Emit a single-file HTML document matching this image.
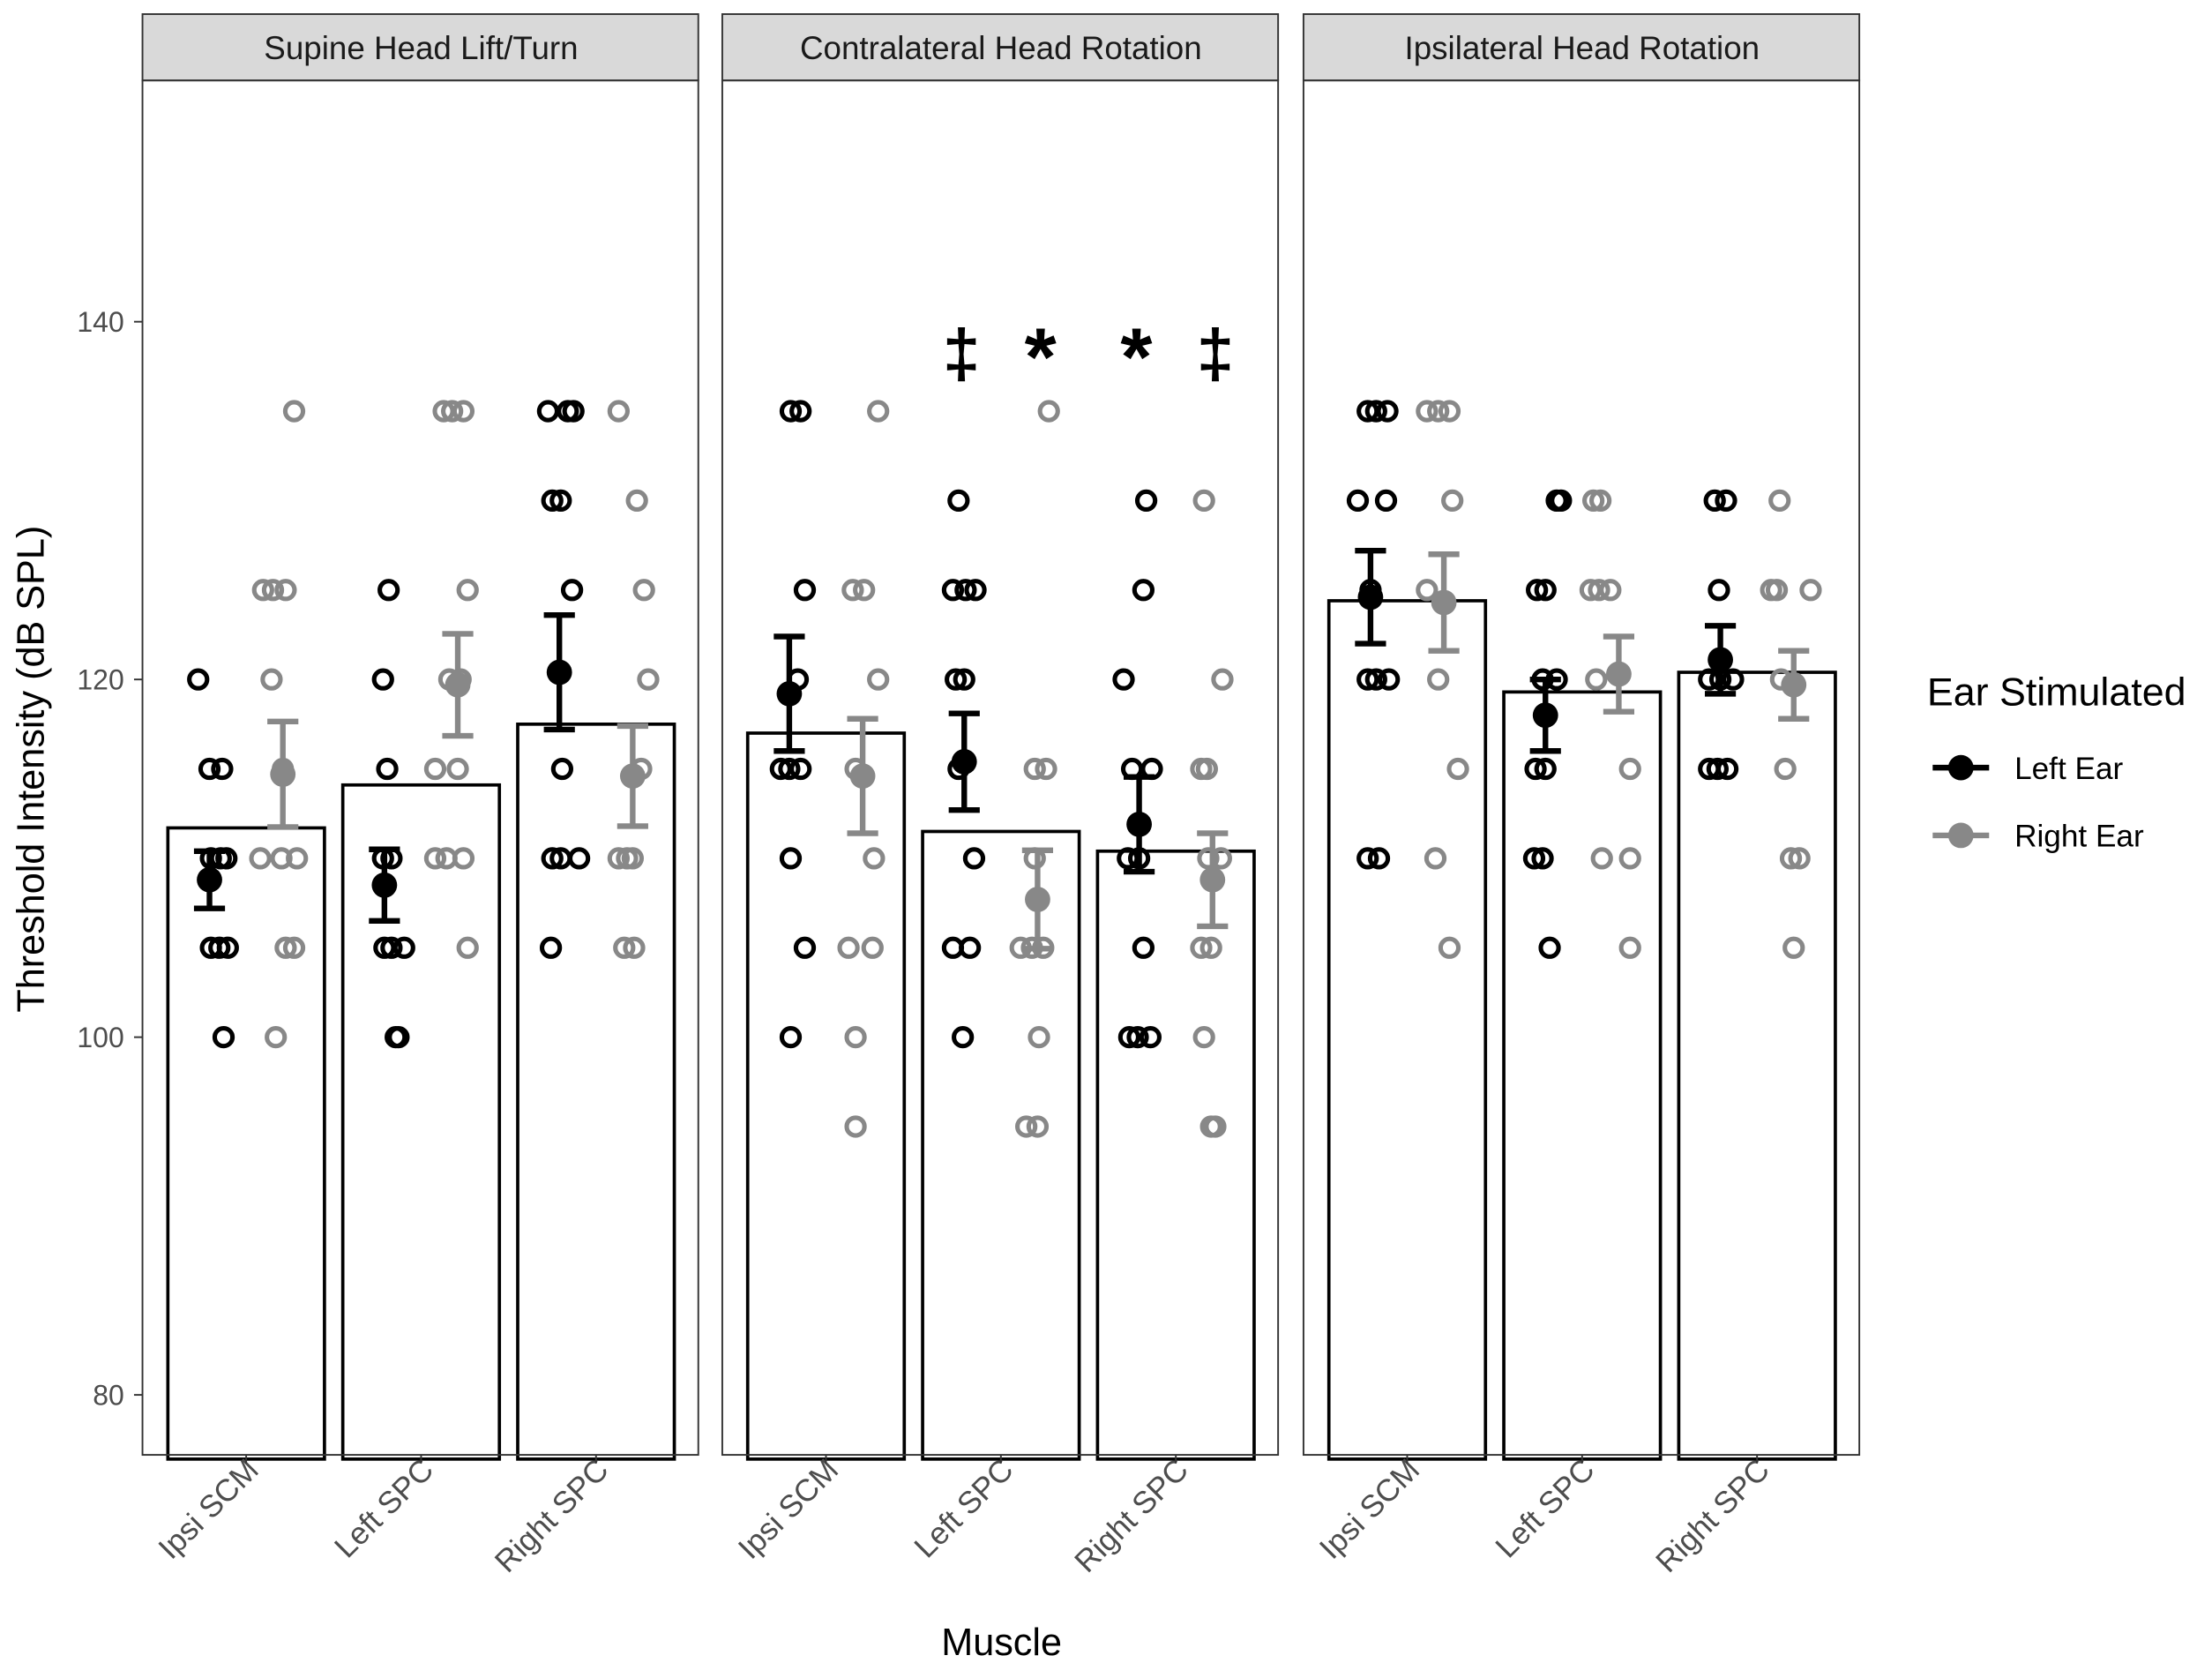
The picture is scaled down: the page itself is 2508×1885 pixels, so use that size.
<!DOCTYPE html>
<html><head><meta charset="utf-8"><style>html,body{margin:0;padding:0;background:#fff}svg{display:block}text{font-family:"Liberation Sans",sans-serif}</style></head>
<body>
<svg id="chart" xmlns="http://www.w3.org/2000/svg" width="2508" height="1885" viewBox="0 0 1568 1178.5">
<rect width="1568" height="1180" fill="#fff"/>
<g id="root"></g>
</svg>
<script>
const panels = ["Supine Head Lift/Turn","Contralateral Head Rotation","Ipsilateral Head Rotation"];
const categories = ["Ipsi SCM","Left SPC","Right SPC"];
const barMeans = [[111.7,114.1,117.5],[117.0,111.5,110.4],[124.4,119.3,120.4]];
const leftMean = [[108.8,108.5,120.4],[119.2,115.4,111.9],[124.6,118.0,121.1]];
const leftSE = [[1.6,2.0,3.2],[3.2,2.7,2.65],[2.6,2.0,1.9]];
const rightMean = [[114.7,119.7,114.6],[114.6,107.7,108.8],[124.3,120.3,119.7]];
const rightSE = [[2.95,2.85,2.8],[3.2,2.75,2.6],[2.7,2.1,1.9]];
const leftPts = [
 [[[120,-34],[115,-26],[115,-17],[110,-25],[110,-18],[110,-14],[105,-25],[105,-19],[105,-13],[100,-16]],
  [[125,-23],[120,-27],[115,-24],[110,-27],[110,-21],[105,-26],[105,-21],[105,-12],[100,-18],[100,-16]],
  [[135,-34],[135,-20],[135,-16],[130,-31],[130,-25],[125,-17],[115,-24],[110,-31],[110,-25],[110,-12],[105,-32]]],
 [[[135,-25],[135,-18],[125,-15],[120,-20],[115,-32],[115,-26],[115,-18],[110,-25],[105,-15],[100,-25]],
  [[130,-30],[125,-34],[125,-25],[125,-18],[120,-32],[120,-26],[115,-30],[110,-19],[105,-34],[105,-22],[100,-27]],
  [[130,-21],[125,-23],[120,-37],[115,-31],[115,-17],[110,-34],[110,-26],[105,-23],[100,-33],[100,-27],[100,-18]]],
 [[[135,-28],[135,-22],[135,-14],[130,-35],[130,-15],[125,-26],[120,-28],[120,-22],[120,-13],[110,-28],[110,-20]],
  [[130,-18],[130,-15],[125,-32],[125,-26],[120,-28],[120,-18],[115,-33],[115,-26],[110,-34],[110,-28],[105,-23]],
  [[130,-30],[130,-22],[125,-27],[120,-34],[120,-26],[120,-17],[115,-34],[115,-28],[115,-21]]]
];
const rightPts = [
 [[[135,34],[125,12],[125,19],[125,28],[120,18],[115,26],[110,10],[110,25],[110,36],[105,28],[105,34],[100,21]],
  [[135,16],[135,22],[135,30],[125,33],[120,20],[120,28],[115,10],[115,26],[110,10],[110,18],[110,30],[105,33]],
  [[135,16],[130,29],[125,34],[120,37],[115,32],[110,16],[110,22],[110,26],[105,20],[105,27]]],
 [[[135,37],[125,19],[125,27],[120,37],[115,21],[110,34],[105,16],[105,33],[100,21],[95,21]],
  [[135,34],[115,24],[115,32],[110,24],[105,14],[105,22],[105,30],[100,27],[95,18],[95,26]],
  [[130,20],[120,33],[115,18],[115,22],[110,23],[110,32],[105,18],[105,25],[100,20],[95,25],[95,28]]],
 [[[135,14],[135,22],[135,30],[130,32],[125,14],[120,22],[115,36],[110,20],[105,30]],
  [[130,8],[130,13],[125,6],[125,12],[125,20],[120,10],[115,34],[110,14],[110,34],[105,34]],
  [[130,16],[125,10],[125,14],[125,38],[120,17],[115,20],[110,24],[110,30],[105,26]]]
];
const yTicks = [80,100,120,140];
const annotations = [[1,1,-1,"‡"],[1,1,1,"*"],[1,2,-1,"*"],[1,2,1,"‡"]];
const annotY = 138.5;

const NS="http://www.w3.org/2000/svg";
const root=document.getElementById('root');
function mk(tag,attrs,parent){const e=document.createElementNS(NS,tag);for(const k in attrs)e.setAttribute(k,attrs[k]);(parent||root).appendChild(e);return e;}
const panelX=[101,512,924], panelW=395, plotTop=57, plotBottom=1031;
const y=v=>735-(v-100)*12.675;
const cx=(p,c)=>panelX[p]+73.5+c*124;
const barW=111;

yTicks.forEach(t=>{
  const tl=mk('line',{x1:95,x2:101,y1:y(t),y2:y(t),stroke:'#333','stroke-width':1.2});
  
  
  const tx=mk('text',{x:88,y:y(t)+7,'text-anchor':'end','font-size':20,fill:'#4d4d4d'});
  tx.textContent=t;
  
  
});

panels.forEach((name,p)=>{
  const g=mk('g',{});
  
  
  const strip=mk('rect',{x:panelX[p],y:10,width:panelW-1,height:47,fill:'#d9d9d9',stroke:'#333','stroke-width':1.2},g);
  
  
  const st=mk('text',{x:panelX[p]+panelW/2,y:42,'text-anchor':'middle','font-size':23,fill:'#1a1a1a'},g);
  st.textContent=name;
  
  
  categories.forEach((cat,c)=>{
    const x=cx(p,c);
    const b=mk('rect',{x:x-barW/2,y:y(barMeans[p][c]),width:barW,height:plotBottom-y(barMeans[p][c])+3,fill:'#fff',stroke:'#000','stroke-width':2.3},g);
    
    
    [[leftPts,'#000'],[rightPts,'#888']].forEach(([pts,col])=>{
      pts[p][c].forEach(([v,j])=>{
        const pt=mk('circle',{cx:x+j,cy:y(v),r:6.3,fill:'none',stroke:col,'stroke-width':3.2},g);
        
        
      });
    });
    [[leftMean,leftSE,'#000',-26],[rightMean,rightSE,'#888',26]].forEach(([m,se,col,off],s)=>{
      const mx=x+off, mv=m[p][c], e=se[p][c];
      const eb=mk('path',{d:`M${mx-11},${y(mv+e)}H${mx+11}M${mx},${y(mv+e)}V${y(mv-e)}M${mx-11},${y(mv-e)}H${mx+11}`,stroke:col,'stroke-width':4,fill:'none'},g);
      
      
      const mp=mk('circle',{cx:mx,cy:y(mv),r:9,fill:col},g);
      
      
    });
    const xl=mk('text',{x:0,y:0,'text-anchor':'end','font-size':22,fill:'#4d4d4d',transform:`translate(${x+10},${1043}) rotate(-45)`});
    xl.textContent=cat;
    
    
    const xt=mk('line',{x1:x,x2:x,y1:plotBottom,y2:plotBottom+6,stroke:'#333','stroke-width':1.2});
    
    
  });
  const border=mk('rect',{x:panelX[p],y:plotTop,width:panelW-1,height:plotBottom-plotTop,fill:'none',stroke:'#333','stroke-width':1.2},g);
  
  
});

annotations.forEach(([p,c,side,sym])=>{
  const a=mk('text',{x:cx(p,c)+side*28,y:y(annotY)+(sym==='*'?26:20),'text-anchor':'middle','font-size':sym==='*'?58:48,'font-weight':'bold',fill:'#000'});
  a.textContent=sym;
  
  
});
</script>
<svg style="position:absolute;left:0;top:0" width="2508" height="1885" viewBox="0 0 1568 1178.5">
<text x="0" y="0" transform="translate(31,545) rotate(-90)" text-anchor="middle" font-size="27" fill="#000">Threshold Intensity (dB SPL)</text>
<text x="710" y="1173" text-anchor="middle" font-size="27" fill="#000">Muscle</text>
<text x="1366" y="500" font-size="28" fill="#000">Ear Stimulated</text>
<g>
<line x1="1370" x2="1410" y1="544" y2="544" stroke="#000" stroke-width="4"/><circle cx="1390" cy="544" r="9" fill="#000"/>
<text x="1428" y="552" font-size="22" fill="#000">Left Ear</text></g>
<g>
<line x1="1370" x2="1410" y1="592" y2="592" stroke="#888" stroke-width="4"/><circle cx="1390" cy="592" r="9" fill="#888"/>
<text x="1428" y="600" font-size="22" fill="#000">Right Ear</text></g>
</svg>
</body></html>
